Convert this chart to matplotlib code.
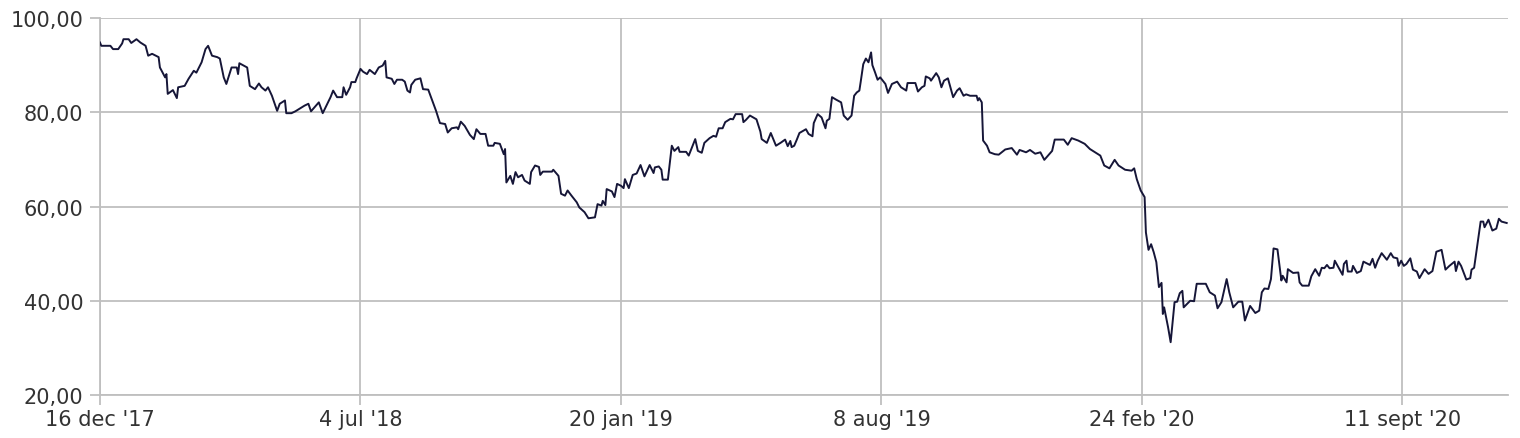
import matplotlib
matplotlib.use("Agg")
import matplotlib.pyplot as plt
import matplotlib.ticker as mticker
import numpy as np
import pandas as pd

start_date = "2017-12-16"
days = [
    0, 1, 8, 10, 14, 17, 18, 22, 24, 28, 31, 35, 37, 40, 45, 46, 50, 51, 52, 56,
    59, 60, 65, 68, 72, 74, 78, 81, 83, 86, 90, 92, 95, 97, 101, 105, 106, 107, 113, 115,
    119, 122, 124, 127, 129, 132, 136, 138, 142, 143, 147, 150, 157, 160, 162, 168, 171, 177, 179, 182,
    186, 187, 189, 192, 193, 196, 197, 200, 202, 205, 207, 211, 214, 217, 219, 220, 224, 226, 228, 232,
    234, 236, 238, 239, 242, 246, 248, 252, 256, 258, 261, 265, 267, 270, 274, 275, 277, 280, 284, 287,
    289, 292, 296, 298, 302, 303, 307, 310, 311, 312, 315, 317, 319, 321, 324, 326, 330, 331, 334, 337,
    338, 340, 347, 348, 352, 354, 357, 359, 362, 366, 368, 372, 375, 380, 382, 385, 386, 388, 389, 393,
    395, 397, 400, 402, 403, 406, 409, 412, 415, 418, 422, 425, 426, 429, 431, 432, 436, 439, 441, 444,
    445, 450, 452, 454, 457, 459, 462, 464, 468, 471, 473, 475, 478, 480, 484, 486, 488, 493, 494, 496,
    499, 504, 507, 508, 512, 515, 519, 523, 526, 528, 530, 531, 533, 535, 537, 542, 544, 547, 548, 551,
    554, 557, 558, 560, 562, 565, 569, 571, 574, 577, 579, 581, 583, 584, 586, 588, 590, 592, 593, 595,
    597, 599, 603, 605, 608, 612, 615, 619, 620, 626, 628, 631, 633, 634, 637, 638, 642, 644, 646, 648,
    651, 655, 658, 660, 663, 665, 668, 673, 674, 675, 677, 678, 681, 683, 687, 690, 695, 700, 704, 706,
    711, 714, 718, 722, 725, 731, 733, 740, 743, 746, 751, 756, 760, 764, 768, 771, 775, 779, 782, 787,
    792, 794, 796, 799, 802, 803, 805, 807, 809, 811, 813, 815, 816, 817, 820, 822, 825, 827, 829, 831,
    832, 837, 840, 842, 849, 852, 856, 858, 861, 865, 867, 870, 874, 877, 879, 883, 887, 890, 892, 894,
    897, 899, 901, 904, 907, 908, 911, 912, 916, 920, 921, 923, 928, 930, 933, 936, 938, 940, 942, 944,
    947, 948, 951, 954, 955, 957, 958, 961, 962, 965, 968, 970, 975, 977, 979, 981, 984, 988, 991, 993,
    996, 997, 999, 1001, 1003, 1006, 1008, 1011, 1013, 1017, 1020, 1023, 1025, 1026, 1030, 1033, 1036, 1040, 1041, 1043,
    1045, 1049, 1052, 1053, 1055, 1060, 1062, 1063, 1066, 1069, 1072, 1074, 1076, 1080,
]
prices = [
    94.8, 94.1, 94.1, 93.4, 93.4, 94.6, 95.5, 95.5, 94.7, 95.5, 94.8, 94.1, 92.0, 92.4, 91.7, 89.5, 87.4, 88.1, 83.9, 84.7,
    83.0, 85.3, 85.6, 87.1, 88.8, 88.4, 90.6, 93.4, 94.1, 92.0, 91.7, 91.4, 87.4, 86.0, 89.5, 89.5, 88.1, 90.4, 89.5, 85.6,
    84.9, 86.1, 85.3, 84.6, 85.3, 83.5, 80.3, 81.8, 82.5, 79.8, 79.8, 80.2, 81.4, 81.8, 80.2, 82.1, 79.8, 83.2, 84.6, 83.2,
    83.2, 85.3, 83.7, 85.3, 86.4, 86.4, 87.2, 89.2, 88.6, 88.1, 89.0, 88.1, 89.5, 89.9, 90.9, 87.4, 87.1, 86.0, 86.9, 86.9,
    86.5, 84.6, 84.2, 85.8, 86.9, 87.2, 84.9, 84.8, 81.8, 80.3, 77.7, 77.5, 75.7, 76.6, 76.8, 76.4, 78.0, 77.1, 75.2, 74.3,
    76.4, 75.4, 75.4, 72.9, 72.9, 73.5, 73.3, 71.1, 72.2, 65.1, 66.5, 64.8, 67.3, 66.2, 66.7, 65.5, 64.8, 67.3, 68.7, 68.4,
    66.7, 67.4, 67.4, 67.8, 66.5, 62.7, 62.3, 63.4, 62.3, 60.9, 59.8, 58.8, 57.5, 57.7, 60.5, 60.2, 61.2, 60.3, 63.7, 63.2,
    62.0, 64.8, 64.4, 63.9, 65.8, 63.9, 66.7, 67.0, 68.8, 66.4, 68.8, 67.1, 68.3, 68.5, 67.8, 65.7, 65.7, 72.9, 71.8, 72.6,
    71.6, 71.6, 70.8, 72.2, 74.3, 71.8, 71.4, 73.5, 74.5, 75.0, 74.8, 76.6, 76.6, 77.9, 78.6, 78.5, 79.6, 79.6, 77.9, 78.4,
    79.3, 78.5, 75.9, 74.3, 73.5, 75.6, 72.9, 73.6, 74.2, 72.8, 73.9, 72.6, 72.9, 74.2, 75.6, 76.4, 75.4, 74.9, 77.7, 79.6,
    78.9, 76.6, 78.2, 78.6, 83.2, 82.7, 82.1, 79.3, 78.4, 79.3, 83.5, 84.2, 84.6, 86.4, 90.2, 91.4, 90.6, 92.7, 90.0, 88.5,
    86.9, 87.4, 86.0, 84.1, 86.0, 86.5, 85.3, 84.6, 86.2, 86.2, 84.4, 85.3, 85.6, 87.6, 87.2, 86.7, 88.3, 87.4, 85.3, 86.7,
    87.2, 83.2, 84.6, 85.1, 83.5, 83.8, 83.5, 83.5, 82.5, 83.0, 82.1, 74.0, 72.9, 71.5, 71.1, 71.0, 72.1, 72.4, 71.0, 72.0,
    71.5, 72.0, 71.2, 71.5, 69.9, 71.8, 74.2, 74.2, 73.1, 74.5, 74.0, 73.3, 72.2, 71.5, 70.8, 68.7, 68.1, 69.9, 68.7, 67.8,
    67.6, 68.1, 65.8, 63.4, 62.0, 54.5, 50.8, 52.0, 50.3, 48.2, 42.9, 43.8, 37.2, 38.6, 34.4, 31.2, 39.7, 39.8, 41.6, 42.1,
    38.6, 40.0, 39.9, 43.6, 43.6, 41.8, 41.1, 38.4, 39.7, 44.6, 41.8, 38.6, 39.8, 39.8, 35.8, 38.9, 37.4, 37.9, 41.8, 42.6,
    42.5, 44.6, 51.1, 50.9, 44.3, 45.3, 43.9, 46.7, 45.9, 46.0, 43.9, 43.2, 43.2, 45.2, 46.7, 45.3, 47.0, 46.9, 47.6, 46.9,
    47.0, 48.5, 47.0, 45.5, 47.8, 48.5, 46.2, 46.2, 47.4, 45.9, 46.3, 48.3, 47.6, 48.9, 47.0, 48.5, 50.1, 48.7, 50.1, 49.2,
    49.0, 47.4, 48.5, 47.4, 47.8, 49.0, 46.6, 46.2, 44.8, 46.7, 45.7, 46.3, 49.0, 50.4, 50.8, 46.6, 47.4, 48.3, 46.3, 48.3,
    47.4, 44.5, 44.8, 46.6, 47.0, 56.8, 56.8, 55.6, 57.2, 54.9, 55.3, 57.4, 56.8, 56.5,
]

tick_dates = ["2017-12-16", "2018-07-04", "2019-01-20", "2019-08-08", "2020-02-24", "2020-09-11"]
tick_labels = ["16 dec '17", "4 jul '18", "20 jan '19", "8 aug '19", "24 feb '20", "11 sept '20"]
y_ticks = [20, 40, 60, 80, 100]

grid_color = "#bfbfbf"
text_color = "#333333"

dates = pd.Timestamp(start_date) + pd.to_timedelta(days, unit="D")

fig = plt.figure(figsize=(15.2, 4.39), dpi=100)
ax = fig.add_axes([100 / 1520, 1 - 396 / 439, 1408 / 1520, 377 / 439])

ax.plot(dates, prices, color="#161638", linewidth=1.4, zorder=3)

# assen
ax.set_ylim(20, 100)
ax.set_xlim(pd.Timestamp(start_date), pd.Timestamp(start_date) + pd.Timedelta(days=1081))
ax.set_yticks(y_ticks)
ax.yaxis.set_major_formatter(mticker.FuncFormatter(lambda v, p: f"{v:.2f}".replace(".", ",")))
ax.set_xticks(pd.to_datetime(tick_dates))
ax.set_xticklabels(tick_labels)

ax.grid(True, color=grid_color, linewidth=1.3)
ax.set_axisbelow(True)
for side in ["top", "right"]:
    ax.spines[side].set_visible(False)
for side in ["left", "bottom"]:
    ax.spines[side].set_color(grid_color)
    ax.spines[side].set_linewidth(1.3)

ax.tick_params(axis="y", length=7, width=1.3, color=grid_color, pad=5,
               labelsize=15, labelcolor=text_color)
ax.tick_params(axis="x", length=7, width=1.3, color=grid_color, pad=3,
               labelsize=15, labelcolor=text_color)

fig.savefig("out.png", dpi=100)
